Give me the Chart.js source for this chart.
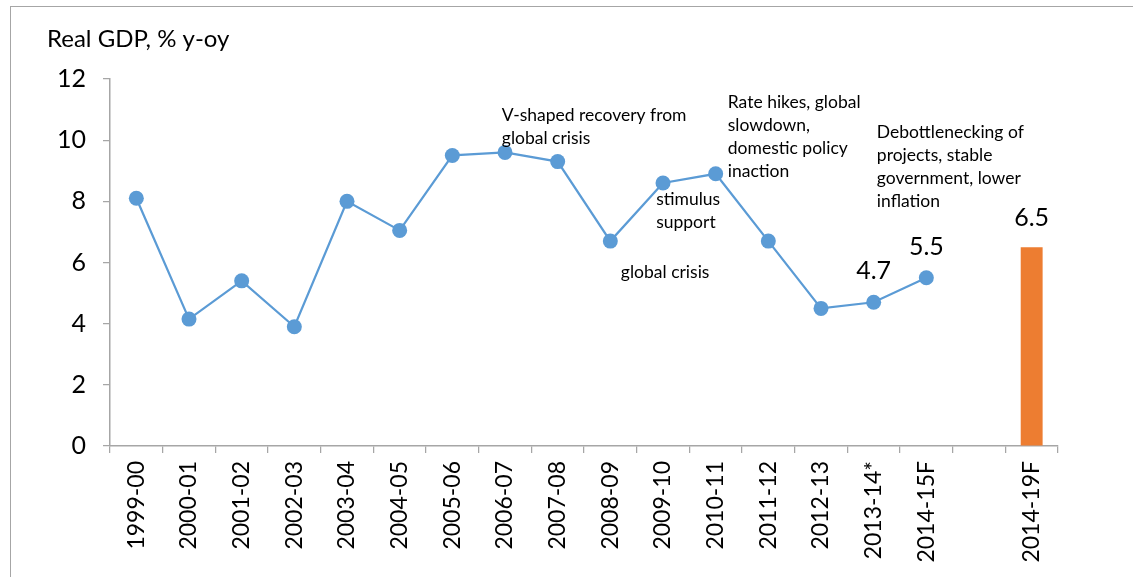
<!DOCTYPE html>
<html>
<head>
<meta charset="utf-8">
<script src="https://cdn.jsdelivr.net/npm/chart.js@4.4.1/dist/chart.umd.min.js"></script>
<style>
  html, body { margin: 0; padding: 0; background: #fff; }
  #wrap { position: relative; width: 1133px; height: 577px; }
  #frame { position: absolute; left: 10px; top: 6px; right: 0; bottom: -2px; border-left: 1.5px solid #a6a6a6; border-top: 1.5px solid #a6a6a6; pointer-events: none; }
  canvas { position: absolute; left: 0; top: 0; }
</style>
</head>
<body>
<div id="wrap">
  <canvas id="c" width="1133" height="577"></canvas>
  <div id="frame"></div>
</div>
<script>
// ---- Data ----
const categories = ['1999-00','2000-01','2001-02','2002-03','2003-04','2004-05','2005-06','2006-07','2007-08','2008-09','2009-10','2010-11','2011-12','2012-13','2013-14*','2014-15F','','2014-19F'];
const gdpActual = [8.1, 4.15, 5.4, 3.9, 8.0, 7.05, 9.5, 9.6, 9.3, 6.7, 8.6, 8.9, 6.7, 4.5, 4.7, 5.5, null, null];
const gdpForecast = [null, null, null, null, null, null, null, null, null, null, null, null, null, null, null, null, null, 6.5];
const yTicks = [0, 2, 4, 6, 8, 10, 12];
const labelledPoints = [14, 15]; // indices of line points with value labels
const axisTitle = 'Real GDP, % y-oy';
// annotations: [category position (fractional index), y value of first line, lines]
const annotations = [
  { x: 6.94, y: 10.8, lines: ['V-shaped recovery from', 'global crisis'] },
  { x: 9.87, y: 8.08, lines: ['stimulus', 'support'] },
  { x: 9.2, y: 5.67, lines: ['global crisis'] },
  { x: 11.23, y: 11.25, lines: ['Rate hikes, global', 'slowdown,', 'domestic policy', 'inaction'] },
  { x: 14.06, y: 10.26, lines: ['Debottlenecking of', 'projects, stable', 'government, lower', 'inflation'] }
];

const FONT = 'Lato, "Open Sans", sans-serif';
const BLUE = '#5B9BD5';
const ORANGE = '#ED7D31';
const AXIS = '#a6a6a6';

const textPlugin = {
  id: 'texts',
  afterDatasetsDraw(chart) {
    const ctx = chart.ctx;
    const xs = chart.scales.x, ys = chart.scales.y;
    ctx.save();
    ctx.fillStyle = '#000';
    // axis title
    ctx.font = '24px ' + FONT;
    ctx.textAlign = 'left';
    ctx.textBaseline = 'middle';
    ctx.fillText(axisTitle, 47, 39);
    // annotations
    ctx.font = '17.5px ' + FONT;
    annotations.forEach(a => {
      const px = xs.getPixelForValue(a.x);
      const py = ys.getPixelForValue(a.y);
      a.lines.forEach((l, i) => ctx.fillText(l, px, py + i * 23));
    });
    // value labels
    ctx.font = '25px ' + FONT;
    ctx.textAlign = 'center';
    ctx.textBaseline = 'middle';
    const lineMeta = chart.getDatasetMeta(1);
    labelledPoints.forEach(i => {
      const el = lineMeta.data[i];
      ctx.fillText(gdpActual[i].toFixed(1), el.x, el.y - 31);
    });
    const barMeta = chart.getDatasetMeta(0);
    gdpForecast.forEach((v, i) => {
      if (v == null) return;
      const el = barMeta.data[i];
      ctx.fillText(v.toFixed(1), el.x, el.y - 29);
    });
    ctx.restore();
  }
};

new Chart(document.getElementById('c'), {
  type: 'bar',
  data: {
    labels: categories,
    datasets: [
      {
        type: 'bar',
        data: gdpForecast,
        backgroundColor: ORANGE,
        borderWidth: 0,
        barPercentage: 0.52,
        categoryPercentage: 0.8,
        order: 2
      },
      {
        type: 'line',
        data: gdpActual,
        borderColor: BLUE,
        backgroundColor: BLUE,
        borderWidth: 2.25,
        pointRadius: 7.5,
        pointHoverRadius: 7.5,
        pointBackgroundColor: BLUE,
        pointBorderWidth: 0,
        spanGaps: false,
        tension: 0,
        order: 1
      }
    ]
  },
  options: {
    responsive: false,
    animation: false,
    devicePixelRatio: 1,
    layout: { padding: { left: 10, top: 79, right: 75, bottom: 0 } },
    plugins: { legend: { display: false }, tooltip: { enabled: false } },
    scales: {
      x: {
        offset: true,
        grid: { display: true, drawOnChartArea: false, drawTicks: true, tickLength: 7, color: AXIS, offset: true, lineWidth: 1.25 },
        border: { display: true, color: AXIS, width: 1.5 },
        ticks: { color: '#000', font: { family: FONT, size: 23 }, maxRotation: 90, minRotation: 90, autoSkip: false, padding: 8 },
        afterFit(scale) { scale.height = 131; }
      },
      y: {
        min: 0, max: 12,
        afterBuildTicks(scale) { scale.ticks = yTicks.map(v => ({ value: v })); },
        grid: { display: true, drawOnChartArea: false, drawTicks: true, tickLength: 7, color: AXIS, lineWidth: 1.25 },
        border: { display: true, color: AXIS, width: 1.5 },
        ticks: { color: '#000', font: { family: FONT, size: 25 }, padding: 17 },
        afterFit(scale) { scale.width = 100; }
      }
    }
  },
  plugins: [textPlugin]
});
</script>
</body>
</html>
